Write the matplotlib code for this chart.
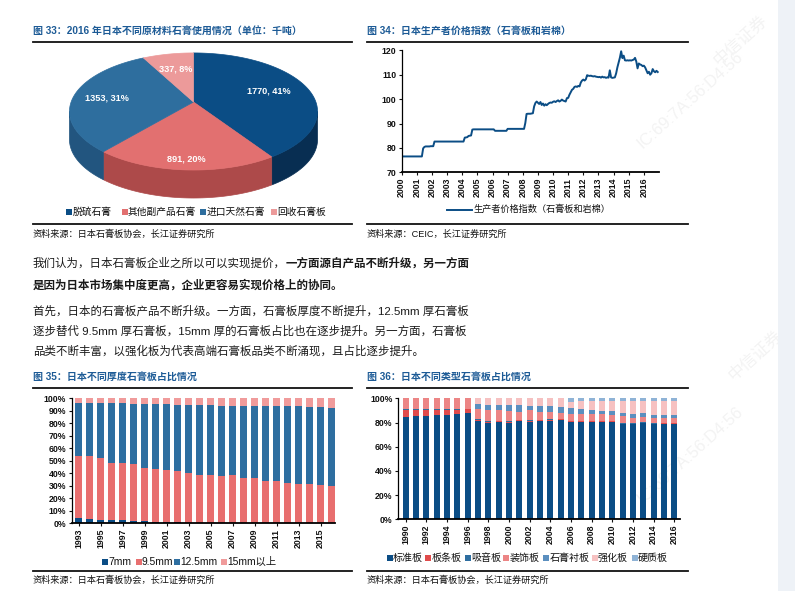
import matplotlib
matplotlib.use("Agg")
import matplotlib.pyplot as plt
import numpy as np
from matplotlib.patches import Polygon, Rectangle

plt.rcParams['font.family'] = ['Liberation Sans', 'Noto Sans CJK SC']

W, H = 800, 591

# ---------------- data ----------------
pie_labels = ["脱硫石膏", "其他副产品石膏", "进口天然石膏", "回收石膏板"]
pie_values = [1770, 891, 1353, 337]
pie_pcts = [41, 20, 31, 8]

ppi_label = "生产者价格指数（石膏板和岩棉）"
ppi_years = list(range(2000, 2017))
ppi_2000 = [76.5, 76.5, 76.5, 76.5, 76.5, 76.5, 76.5, 76.5, 76.5, 76.5, 76.5, 76.5]
ppi_2001 = [76.5, 76.5, 76.5, 76.5, 76.5, 79.8, 80.4, 80.6, 80.6, 80.6, 80.6, 80.7]
ppi_2002 = [80.7, 80.7, 82.6, 82.6, 82.6, 82.6, 82.6, 82.6, 82.6, 82.6, 82.6, 82.6]
ppi_2003 = [82.6, 82.6, 82.6, 82.6, 82.6, 82.6, 82.6, 82.6, 82.6, 82.6, 82.6, 82.6]
ppi_2004 = [82.6, 82.6, 84.2, 84.3, 84.4, 84.9, 85.0, 85.1, 87.5, 87.6, 87.6, 87.6]
ppi_2005 = [87.6, 87.6, 87.6, 87.6, 87.6, 87.6, 87.6, 87.6, 87.6, 87.6, 87.6, 87.6]
ppi_2006 = [87.6, 87.6, 87.0, 87.0, 87.0, 87.0, 87.0, 87.0, 87.0, 87.0, 87.0, 87.0]
ppi_2007 = [87.8, 87.8, 87.8, 87.8, 87.8, 87.8, 87.8, 87.8, 87.8, 87.8, 87.8, 87.8]
ppi_2008 = [87.8, 87.8, 90.2, 93.9, 94.0, 94.0, 94.0, 94.1, 94.2, 97.0, 98.4, 99.0]
ppi_2009 = [98.5, 98.0, 98.8, 97.6, 98.2, 97.3, 97.9, 97.5, 98.0, 98.4, 98.6, 98.5]
ppi_2010 = [98.9, 99.1, 98.8, 99.2, 99.5, 99.0, 99.3, 99.8, 99.4, 99.2, 99.0, 100.4]
ppi_2011 = [100.5, 101.8, 102.8, 103.8, 104.2, 105.0, 105.2, 105.0, 105.4, 105.2, 106.8, 107.6]
ppi_2012 = [108.0, 107.6, 108.1, 109.8, 109.6, 109.5, 109.6, 109.4, 109.3, 109.4, 109.2, 109.1]
ppi_2013 = [109.0, 109.1, 108.8, 109.2, 108.9, 109.0, 108.7, 108.9, 108.8, 111.8, 108.9, 108.7]
ppi_2014 = [108.8, 108.9, 110.5, 113.0, 115.0, 117.0, 119.6, 116.8, 117.8, 115.9, 115.8, 115.9]
ppi_2015 = [115.8, 115.9, 115.8, 116.0, 116.2, 116.9, 115.4, 112.6, 114.6, 114.2, 114.0, 113.5]
ppi_2016 = [113.7, 113.0, 111.8, 110.6, 111.2, 110.0, 110.6, 112.3, 111.4, 111.0, 111.6, 111.1]

thick_years = list(range(1993, 2017))
thick_labels = ["7mm", "9.5mm", "12.5mm", "15mm以上"]
t7 = [4.2, 3.6, 3.0, 2.7, 2.3, 2.0, 1.8, 1.3, 1.0, 0.8, 0.6, 0.5,
      0.4, 0.3, 0.3, 0.2, 0.2, 0.1, 0.1, 0.1, 0.1, 0.1, 0.1, 0.1]
t95 = [49.8, 50.4, 49.0, 45.8, 45.7, 45.4, 42.7, 42.1, 41.4, 41.0, 39.6, 38.1,
       38.2, 37.5, 38.3, 35.7, 35.7, 33.9, 33.7, 31.8, 31.0, 31.3, 30.5, 29.9]
t125 = [42.0, 42.5, 44.5, 47.5, 48.0, 48.1, 51.0, 51.8, 52.8, 53.2, 54.8, 56.0,
        56.0, 56.3, 55.5, 57.9, 57.9, 60.1, 60.3, 62.2, 62.7, 61.8, 62.6, 62.4]
t15 = [4.0, 3.5, 3.5, 4.0, 4.0, 4.5, 4.5, 4.8, 4.8, 5.0, 5.0, 5.4,
       5.4, 5.9, 5.9, 6.2, 6.2, 5.9, 5.9, 5.9, 6.2, 6.8, 6.8, 7.6]

type_years = list(range(1990, 2017))
type_labels = ["标准板", "板条板", "吸音板", "装饰板", "石膏衬板", "强化板", "硬质板"]
std = [84.5, 85.0, 85.5, 86.0, 86.5, 87.0, 87.8, 81.0, 79.5, 80.2, 79.6, 81.0, 80.7, 81.3,
       81.5, 82.0, 80.4, 80.7, 80.7, 80.4, 80.4, 78.6, 78.5, 79.5, 78.5, 79.0, 78.8]
lath = [5.5, 5.0, 4.5, 4.2, 4.0, 3.5, 3.0, 1.3, 1.1, 0.8, 1.0, 0.8, 0.8, 0.7,
        0.7, 0.5, 0.5, 0.5, 0.5, 0.5, 0.5, 0.5, 0.5, 0.5, 0.5, 0.5, 0.5]
acoustic = [0.8, 0.8, 0.8, 0.8, 0.8, 0.8, 0.7, 0.3, 0.3, 0.3, 0.3, 0.3, 0.3, 0.3,
            0.3, 0.3, 0.3, 0.3, 0.3, 0.3, 0.3, 0.3, 0.3, 0.3, 0.3, 0.3, 0.3]
deco = [9.2, 9.2, 9.2, 9.0, 8.7, 8.7, 8.5, 8.6, 9.5, 9.1, 8.9, 6.9, 8.2, 6.7,
        6.5, 4.8, 5.8, 5.5, 5.3, 5.8, 5.3, 6.0, 4.7, 4.2, 4.2, 4.2, 4.4]
liner = [0, 0, 0, 0, 0, 0, 0, 4.1, 4.4, 4.1, 4.4, 5.5, 4.0, 4.9,
         4.5, 5.5, 4.7, 3.9, 3.6, 2.8, 3.3, 2.8, 3.0, 3.0, 2.7, 2.5, 2.5]
reinforced = [0, 0, 0, 0, 0, 0, 0, 4.7, 5.2, 5.5, 5.8, 5.5, 6.0, 6.1,
              6.5, 6.9, 5.5, 6.9, 7.4, 8.0, 8.0, 9.6, 10.8, 10.3, 11.6, 11.3, 11.3]
hard = [0, 0, 0, 0, 0, 0, 0, 0, 0, 0, 0, 0, 0, 0,
        0, 0, 2.8, 2.2, 2.2, 2.2, 2.2, 2.2, 2.2, 2.2, 2.2, 2.2, 2.2]

# ---------------- style ----------------
TITLE_C = "#1d5b96"
NAVY = "#0b4d85"
pie_colors = ["#0b4d85", "#e27070", "#2e6e9e", "#ec9a9a"]
pie_side = ["#082e52", "#ad4a4a", "#22557f", "#c07070"]
thick_colors = ["#0b4d85", "#e86f6f", "#2e6ea0", "#f09b9b"]
type_colors = ["#0b4d85", "#e04b4b", "#2e6ea0", "#ec8585", "#5b8fbf", "#f6c1c1", "#8fb3d6"]

fig = plt.figure(figsize=(8, 5.91), dpi=100)
cv = fig.add_axes([0, 0, 1, 1])
cv.set_xlim(0, W)
cv.set_ylim(H, 0)
cv.axis("off")

def px_axes(l, t, r, b):
    a = fig.add_axes([l / W, 1 - b / H, (r - l) / W, (b - t) / H])
    a.set_facecolor("none")
    return a

# right grey strip and faint watermarks
cv.add_patch(Rectangle((778, 0), 17, H, color="#eef2f7", lw=0))
for (wx, wy, s) in [(690, 100, "IC:69:7A:56:D4:56"), (690, 455, "IC:69:7A:56:D4:56"),
                    (740, 40, "中信证券"), (755, 355, "中信证券")]:
    cv.text(wx, wy, s, rotation=42, color="#f3f3f3", fontsize=12, ha="center", va="center", zorder=0)

# titles, rules and sources
def panel(x0, x1, ytitle, yrule, ybot, ysrc, title, src):
    cv.text(x0, ytitle, title, color=TITLE_C, fontsize=7.2, fontweight="bold", va="center")
    cv.plot([x0, x1], [yrule, yrule], color="#111111", lw=1.3)
    cv.plot([x0, x1], [ybot, ybot], color="#111111", lw=1.3)
    cv.text(x0, ysrc, src, fontsize=6.6, va="center", color="#111111")

panel(33, 352, 32, 42, 224, 234, "图 33：2016 年日本不同原材料石膏使用情况（单位：千吨）", "资料来源：日本石膏板协会，长江证券研究所")
panel(367, 688, 32, 42, 224, 234, "图 34：日本生产者价格指数（石膏板和岩棉）", "资料来源：CEIC，长江证券研究所")
panel(33, 352, 378, 388, 571, 580, "图 35：日本不同厚度石膏板占比情况", "资料来源：日本石膏板协会，长江证券研究所")
panel(367, 688, 378, 388, 571, 580, "图 36：日本不同类型石膏板占比情况", "资料来源：日本石膏板协会，长江证券研究所")

# ---------------- pie (3D look) ----------------
cx, ay, A, F, k, depth = 193.5, 102.0, 122.4, 57.0, 0.162, 28.0

def proj(t, r=1.0):
    c = r * np.cos(t)
    s = -r * np.sin(t)
    w = 1 - k * s
    return cx + A * c / w, ay + F * s / w

fr = np.array(pie_values) / sum(pie_values)
edges = np.radians(90 - 360 * np.concatenate([[0], np.cumsum(fr)]))
vis0, vis1 = -np.pi + np.arcsin(k), -np.arcsin(k)
for i in range(len(pie_values)):
    lo, hi = max(edges[i + 1], vis0), min(edges[i], vis1)
    if lo < hi:
        ts = np.linspace(lo, hi, 80)
        xs, ys = proj(ts)
        pts = np.column_stack([np.r_[xs, xs[::-1]], np.r_[ys, ys[::-1] + depth]])
        cv.add_patch(Polygon(pts, closed=True, fc=pie_side[i], ec=pie_side[i], lw=0.5, zorder=2))
for i in range(len(pie_values)):
    ts = np.linspace(edges[i], edges[i + 1], 120)
    xs, ys = proj(ts)
    pts = np.column_stack([np.r_[cx, xs], np.r_[ay, ys]])
    cv.add_patch(Polygon(pts, closed=True, fc=pie_colors[i], ec=pie_colors[i], lw=0.5, zorder=3))
lab_r = [0.66, 0.86, 0.72, 0.65]
for i in range(len(pie_values)):
    tm = (edges[i] + edges[i + 1]) / 2
    lx, ly = proj(tm, lab_r[i])
    cv.text(lx, ly, f"{pie_values[i]}, {pie_pcts[i]}%", color="white", fontsize=6.6,
            fontweight="bold", ha="center", va="center", zorder=4)

def legend_row(xs, y, labels, colors, size=6.8, box=6):
    for x, lab, c in zip(xs, labels, colors):
        cv.add_patch(Rectangle((x, y - box / 2), box, box, color=c, lw=0))
        cv.text(x + box + 0.5, y, lab, fontsize=size, va="center", color="#111111")

legend_row([66, 121.5, 200, 270.5], 212, pie_labels, pie_colors, size=7.0)

# ---------------- PPI line ----------------
ppi = np.array(ppi_2000 + ppi_2001 + ppi_2002 + ppi_2003 + ppi_2004 + ppi_2005 + ppi_2006 +
               ppi_2007 + ppi_2008 + ppi_2009 + ppi_2010 + ppi_2011 + ppi_2012 + ppi_2013 +
               ppi_2014 + ppi_2015 + ppi_2016)
t_month = ppi_years[0] + np.arange(len(ppi)) / 12.0

ax2 = px_axes(401.7, 50.3, 659, 172.3)
ax2.plot(t_month, ppi, color=NAVY, lw=1.4)
ax2.set_xlim(2000, 2017)
ax2.set_ylim(70, 120)
ax2.set_yticks(range(70, 121, 10))
ax2.set_xticks(ppi_years)
ax2.set_xticklabels([str(y) for y in ppi_years], rotation=90)

cv.plot([447, 472], [209.5, 209.5], color=NAVY, lw=1.4)
cv.text(474, 209.5, ppi_label, fontsize=6.6, va="center", color="#111111")

# ---------------- thickness bars ----------------
ax3 = px_axes(71.7, 398.3, 335, 523.3)
xt = np.arange(len(thick_years))
bottom = np.zeros(len(xt))
for vals, c in zip([t7, t95, t125, t15], thick_colors):
    ax3.bar(xt, vals, bottom=bottom, width=0.6, color=c, lw=0)
    bottom += np.array(vals)
ax3.set_xlim(-0.64, 23.3)
ax3.set_ylim(0, 100)
ax3.set_yticks(range(0, 101, 10))
ax3.set_yticklabels([f"{v}%" for v in range(0, 101, 10)])
ax3.set_xticks(xt[::2])
ax3.set_xticklabels([str(y) for y in thick_years[::2]], rotation=90)
legend_row([101.5, 135.5, 174, 220.5], 561.7, thick_labels, thick_colors, size=7.4)

# ---------------- type bars ----------------
ax4 = px_axes(398.3, 398.3, 680, 519.3)
xs4 = np.arange(len(type_years))
bottom = np.zeros(len(xs4))
for vals, c in zip([std, lath, acoustic, deco, liner, reinforced, hard], type_colors):
    ax4.bar(xs4, vals, bottom=bottom, width=0.58, color=c, lw=0)
    bottom += np.array(vals)
ax4.set_xlim(-0.72, 26.55)
ax4.set_ylim(0, 100)
ax4.set_yticks(range(0, 101, 20))
ax4.set_yticklabels([f"{v}%" for v in range(0, 101, 20)])
ax4.set_xticks(xs4[::2])
ax4.set_xticklabels([str(y) for y in type_years[::2]], rotation=90)
legend_row([386.5, 425, 465, 503, 543, 591.5, 631.5], 558.3, type_labels, type_colors, size=7.2)

for a in (ax2, ax3, ax4):
    a.spines[["top", "right"]].set_visible(False)
    a.spines["left"].set_linewidth(0.9)
    a.spines["bottom"].set_linewidth(1.3)
    a.tick_params(axis="both", labelsize=6.3, length=2.5, width=0.8, pad=1.5, colors="#111111")
    for lab in a.get_xticklabels() + a.get_yticklabels():
        lab.set_fontweight("bold")

# ---------------- paragraph ----------------
TXT = dict(fontsize=8.25, va="center", color="#1a1a1a")
renderer = fig.canvas.get_renderer()
t1 = cv.text(33, 263, "我们认为，日本石膏板企业之所以可以实现提价，", **TXT)
bb = t1.get_window_extent(renderer=renderer)
x_end = cv.transData.inverted().transform((bb.x1, bb.y0))[0]
cv.text(x_end, 263, "一方面源自产品不断升级，另一方面", fontweight="bold", **TXT)
cv.text(33, 285, "是因为日本市场集中度更高，企业更容易实现价格上的协同。", fontweight="bold", **TXT)
cv.text(33, 311, "首先，日本的石膏板产品不断升级。一方面，石膏板厚度不断提升，12.5mm 厚石膏板", **TXT)
cv.text(33, 331, "逐步替代 9.5mm 厚石膏板，15mm 厚的石膏板占比也在逐步提升。另一方面，石膏板", **TXT)
cv.text(33, 351, "品类不断丰富，以强化板为代表高端石膏板品类不断涌现，且占比逐步提升。", **TXT)

fig.savefig("out.png", dpi=100)
